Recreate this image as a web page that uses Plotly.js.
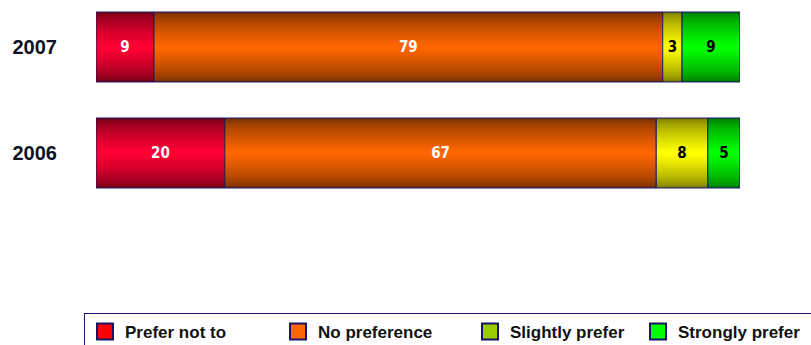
<!DOCTYPE html>
<html>
<head>
<meta charset="utf-8">
<script src="https://cdn.plot.ly/plotly-3.0.1.min.js"></script>
<style>html,body{margin:0;padding:0;background:#fff;}#chart{width:811px;height:345px;}</style>
</head>
<body>
<div id="chart"></div>
<script>
// ---- data ----
const years = ['2007', '2006'];
const seriesNames = ['Prefer not to', 'No preference', 'Slightly prefer', 'Strongly prefer'];
const preferNotTo = [9, 20];
const noPreference = [79, 67];
const slightlyPrefer = [3, 8];
const stronglyPrefer = [9, 5];

// ---- styles ----
const edgeColors = [[122, 0, 24], [122, 50, 0], [128, 128, 0], [0, 128, 0]];
const centerColors = [[255, 0, 51], [255, 102, 0], [255, 255, 0], [0, 255, 0]];
const legendColors = ['#ff0000', '#ff6600', '#99cc00', '#00ff00'];
const textColors = ['#ffffff', '#ffffff', '#000000', '#000000'];
const legendWidths = [148, 147, 123, 128];
const outline = '#1a1466';
const barWidth = 0.66;
const layers = 14;

const series = [preferNotTo, noPreference, slightlyPrefer, stronglyPrefer];
const traces = [];
const bases = years.map(() => 0);

series.forEach((vals, si) => {
  const base = bases.slice();
  for (let k = 0; k < layers; k++) {
    const t = k / (layers - 1);
    const c = edgeColors[si].map((e, j) => Math.round(e + (centerColors[si][j] - e) * Math.pow(t, 0.7)));
    traces.push({
      type: 'bar', orientation: 'h',
      y: years, x: vals, base: base,
      width: barWidth * (1 - k / layers),
      marker: {color: 'rgb(' + c.join(',') + ')', line: {width: 0}},
      hoverinfo: 'skip', showlegend: false
    });
  }
  traces.push({
    type: 'bar', orientation: 'h',
    y: years, x: vals, base: base,
    width: barWidth,
    marker: {color: 'rgba(0,0,0,0)', line: {color: outline, width: 1}},
    text: vals.map(String),
    textposition: 'inside', insidetextanchor: 'middle', textangle: 0,
    constraintext: 'none',
    insidetextfont: {family: 'DejaVu Sans Condensed, DejaVu Sans', size: 15, weight: 'bold', color: textColors[si]},
    name: seriesNames[si], showlegend: false
  });
  vals.forEach((v, i) => { bases[i] += v; });
});

seriesNames.forEach((n, si) => {
  traces.push({
    type: 'scatter', mode: 'markers', x: [null], y: [null],
    name: n, legendwidth: legendWidths[si],
    marker: {symbol: 'square', size: 16, color: legendColors[si], line: {color: outline, width: 2}},
    showlegend: true, hoverinfo: 'skip'
  });
});

const layout = {
  width: 811, height: 345,
  margin: {l: 96, r: 71, t: 0, b: 45, autoexpand: false},
  paper_bgcolor: '#ffffff', plot_bgcolor: '#ffffff',
  barmode: 'overlay',
  showlegend: true,
  xaxis: {range: [0, 100], visible: false, fixedrange: true},
  yaxis: {
    type: 'category', categoryorder: 'array', categoryarray: ['2006', '2007'],
    range: [-1.387, 1.4434], showgrid: false, zeroline: false, showline: false,
    ticks: '', ticklabelstandoff: 38,
    tickfont: {family: 'Liberation Sans, Arial', size: 20, weight: 'bold', color: '#0d1126'}
  },
  legend: {
    orientation: 'h', xref: 'paper', yref: 'paper',
    x: (84 - 96) / 644, y: -13 / 300, xanchor: 'left', yanchor: 'top',
    bgcolor: '#ffffff', bordercolor: outline, borderwidth: 1,
    font: {family: 'Liberation Sans, Arial', size: 17, weight: 'bold', color: '#111111'},
    traceorder: 'normal', itemclick: false, itemdoubleclick: false
  }
};

Plotly.newPlot('chart', traces, layout, {displayModeBar: false, staticPlot: true});
</script>
</body>
</html>
